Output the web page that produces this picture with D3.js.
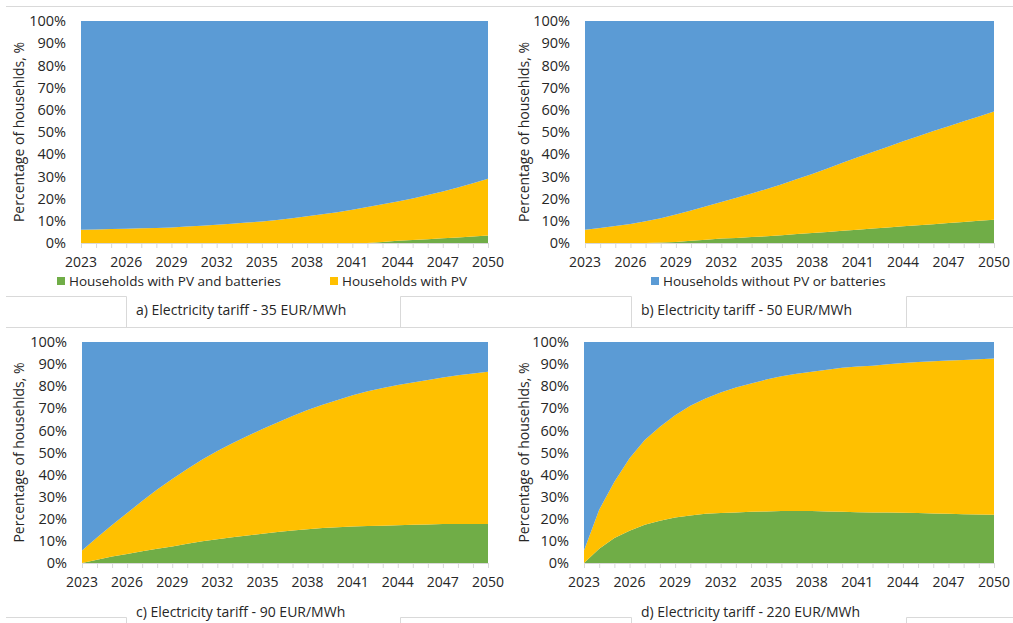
<!DOCTYPE html>
<html>
<head>
<meta charset="utf-8">
<script src="https://cdn.jsdelivr.net/npm/d3@7"></script>
<style>
  html, body { margin: 0; padding: 0; background: #fff; }
  svg { display: block; font-family: "Open Sans", sans-serif; }
</style>
</head>
<body>
<svg id="chart" width="1013" height="623"></svg>
<script>
// years on the x axis (one point per year)
const years = [2023, 2024, 2025, 2026, 2027, 2028, 2029, 2030, 2031, 2032, 2033, 2034, 2035, 2036,
               2037, 2038, 2039, 2040, 2041, 2042, 2043, 2044, 2045, 2046, 2047, 2048, 2049, 2050];
const yearTicks = [2023, 2026, 2029, 2032, 2035, 2038, 2041, 2044, 2047, 2050];
const pctTicks = [0, 10, 20, 30, 40, 50, 60, 70, 80, 90, 100];

// share of households, % — PV + batteries (green) and PV only (yellow)
const batA = [0, 0, 0, 0, 0, 0, 0, 0, 0, 0, 0, 0, 0, 0, 0, 0, 0, 0, 0, 0, 0.5, 1.0, 1.3, 1.7, 2.1, 2.5, 2.9, 3.4];
const pvA  = [6.0, 6.1, 6.3, 6.4, 6.6, 6.8, 7.0, 7.4, 7.8, 8.2, 8.7, 9.2, 9.7, 10.4, 11.2, 12.0, 12.9, 13.9,
              15.0, 16.2, 16.9, 17.7, 18.8, 19.9, 21.1, 22.5, 24.0, 25.5];

const batB = [0, 0, 0, 0, 0, 0.2, 0.5, 1.0, 1.5, 2.0, 2.3, 2.7, 3.0, 3.5, 4.0, 4.5, 5.0, 5.5, 6.0, 6.5,
              7.0, 7.5, 8.0, 8.5, 9.0, 9.5, 10.0, 10.5];
const pvB  = [6.0, 6.8, 7.7, 8.6, 9.8, 11.0, 12.3, 13.6, 15.0, 16.5, 18.1, 19.6, 21.3, 23.0, 24.8, 26.6,
              28.6, 30.6, 32.6, 34.5, 36.4, 38.3, 40.1, 41.9, 43.6, 45.3, 47.0, 48.7];

const batC = [0, 1.5, 2.9, 4.1, 5.3, 6.5, 7.5, 8.7, 9.8, 10.8, 11.6, 12.4, 13.2, 14.0, 14.7, 15.3, 15.8,
              16.2, 16.5, 16.7, 16.9, 17.1, 17.3, 17.4, 17.6, 17.7, 17.7, 17.7];
const pvC  = [5.7, 10.0, 14.3, 18.5, 22.7, 26.8, 30.5, 33.8, 37.0, 39.9, 42.6, 45.1, 47.4, 49.6, 51.8, 53.9,
              55.8, 57.6, 59.4, 61.0, 62.3, 63.4, 64.4, 65.4, 66.3, 67.2, 68.1, 68.8];

const batD = [0, 6.5, 11.3, 14.6, 17.3, 19.1, 20.6, 21.5, 22.3, 22.6, 22.9, 23.2, 23.3, 23.5, 23.5, 23.5,
              23.3, 23.2, 23.0, 22.9, 22.9, 22.7, 22.6, 22.4, 22.3, 22.1, 22.0, 21.8];
const pvD  = [5.7, 17.6, 25.5, 32.8, 38.3, 42.6, 46.3, 49.6, 52.1, 54.5, 56.5, 58.0, 59.7, 61.0, 62.1, 63.0,
              64.1, 65.1, 65.9, 66.4, 67.0, 67.8, 68.4, 68.9, 69.3, 69.8, 70.2, 70.7];

const captions = ['a) Electricity tariff - 35 EUR/MWh', 'b) Electricity tariff - 50 EUR/MWh',
                  'c) Electricity tariff - 90 EUR/MWh', 'd) Electricity tariff - 220 EUR/MWh'];

const SERIES = [
  { key: 'bat',  label: 'Households with PV and batteries', color: '#70ad47' },
  { key: 'pv',   label: 'Households with PV', color: '#ffc000' },
  { key: 'none', label: 'Households without PV or batteries', color: '#5b9bd5' }
];

const textColor = '#262626';
const ruleColor = '#d9d9d9';

const panels = [
  { bat: batA, pv: pvA, x0: 81,  x1: 488, y0: 21,  y1: 243, ox: 0,   legend: ['bat', 'pv'] },
  { bat: batB, pv: pvB, x0: 585, x1: 994, y0: 21,  y1: 243, ox: 505, legend: ['none'] },
  { bat: batC, pv: pvC, x0: 82,  x1: 488, y0: 342, y1: 563, ox: 0,   legend: [] },
  { bat: batD, pv: pvD, x0: 584, x1: 994, y0: 342, y1: 563, ox: 505, legend: [] }
];

const svg = d3.select('#chart');

// page rule along the top
svg.append('line').attr('x1', 6).attr('x2', 1013).attr('y1', 6.5).attr('y2', 6.5)
  .attr('stroke', ruleColor);

const stack = d3.stack().keys(SERIES.map(s => s.key));

panels.forEach((p, i) => {
  const rows = years.map((yr, j) => ({
    year: yr, bat: p.bat[j], pv: p.pv[j], none: 100 - p.bat[j] - p.pv[j]
  }));

  const x = d3.scaleLinear().domain([years[0], years[years.length - 1]]).range([p.x0, p.x1]);
  const y = d3.scaleLinear().domain([0, 100]).range([p.y1, p.y0]);

  const area = d3.area()
    .x(d => x(d.data.year))
    .y0(d => y(d[0]))
    .y1(d => y(d[1]));

  const g = svg.append('g');

  g.selectAll('path.layer')
    .data(stack(rows))
    .join('path')
    .attr('class', 'layer')
    .attr('d', area)
    .attr('fill', d => SERIES.find(s => s.key === d.key).color);

  // y axis labels
  const yAxis = g.append('g')
    .attr('transform', `translate(${p.x0 - 15},0)`)
    .call(d3.axisLeft(y).tickValues(pctTicks).tickFormat(d => d + '%').tickSize(0).tickPadding(0));
  yAxis.select('.domain').remove();
  yAxis.selectAll('text')
    .attr('fill', textColor)
    .style('font-size', '14.5px')
    .style('font-family', '"Open Sans", sans-serif');

  // x axis: line with yearly ticks, labels every third year
  const xAxis = g.append('g')
    .attr('transform', `translate(0,${p.y1})`)
    .call(d3.axisBottom(x).tickValues(years).tickSize(5).tickFormat(''));
  xAxis.select('.domain').attr('stroke', ruleColor).attr('d', `M${p.x0},0.5H${p.x1}`);
  xAxis.selectAll('.tick line').attr('stroke', ruleColor);

  g.selectAll('text.xlab')
    .data(yearTicks)
    .join('text')
    .attr('class', 'xlab')
    .attr('x', d => x(d))
    .attr('y', p.y1 + 19)
    .attr('dy', '0.35em')
    .attr('text-anchor', 'middle')
    .attr('fill', textColor)
    .style('font-size', '14px')
    .text(d => d);

  // axis title
  const ty = (p.y0 + p.y1) / 2;
  g.append('text')
    .attr('transform', `translate(${p.ox + 19},${ty}) rotate(-90)`)
    .attr('text-anchor', 'middle')
    .attr('dy', '0.35em')
    .attr('fill', textColor)
    .style('font-size', '14px')
    .text('Percentage of househlds, %');

  // legend
  const legendX = i === 0 ? [57, 330] : [651];
  p.legend.forEach((k, li) => {
    const s = SERIES.find(d => d.key === k);
    const lx = legendX[li];
    g.append('rect').attr('x', lx).attr('y', 277).attr('width', 8).attr('height', 8).attr('fill', s.color);
    g.append('text').attr('x', lx + 12).attr('y', 281).attr('dy', '0.35em')
      .attr('fill', textColor).style('font-size', '13.5px').text(s.label);
  });

  // caption box
  const bx0 = p.ox + 126, bx1 = p.ox + 400 + (p.ox ? 1 : 0);
  const top = i < 2 ? 296.5 : 617.5;
  const bot = i < 2 ? 327.5 : 623;
  const rowEnd = p.ox ? 1013 : 505;
  g.append('path')
    .attr('d', `M${p.ox + (p.ox ? 0 : 6)},${top}H${bx0 + 0.5}V${bot}M${bx1 + 0.5},${bot}V${top}H${rowEnd}`)
    .attr('fill', 'none').attr('stroke', ruleColor);
  if (i < 2) {
    g.append('line').attr('x1', p.ox + (p.ox ? 0 : 6)).attr('x2', rowEnd)
      .attr('y1', bot).attr('y2', bot).attr('stroke', ruleColor);
  }
  g.append('text')
    .attr('x', bx0 + 10)
    .attr('y', i < 2 ? 310 : 612)
    .attr('dy', '0.35em')
    .attr('fill', textColor)
    .style('font-size', '14px')
    .text(captions[i]);
});
</script>
</body>
</html>
